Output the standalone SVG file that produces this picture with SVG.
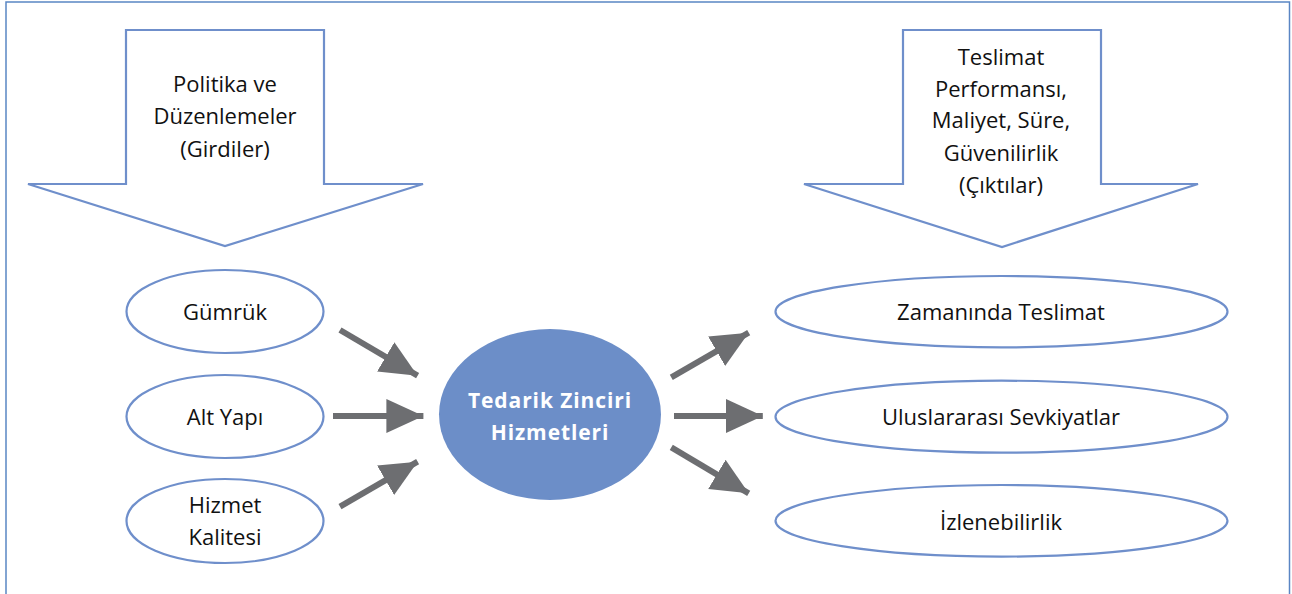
<svg xmlns="http://www.w3.org/2000/svg" width="1292" height="594" viewBox="0 0 1292 594">
<style>
.frame{fill:none;stroke:#5a86c4;stroke-width:1.5}
.blk{fill:#fff;stroke:#6f8fcb;stroke-width:2.2;stroke-linejoin:miter}
.ell{fill:#fff;stroke:#6f8fcb;stroke-width:2.2}
.hub{fill:#6c8ec8;stroke:none}
.t{font-family:"Open Sans","Liberation Sans",sans-serif;font-size:22px;fill:#111;text-anchor:middle}
.tw{font-family:"Open Sans","Liberation Sans",sans-serif;font-size:21px;font-weight:bold;fill:#fff;text-anchor:middle;letter-spacing:0.9px}
.con{stroke:#6d6e71;stroke-width:6;fill:none;marker-end:url(#ah)}
</style>
<defs>
<marker id="ah" markerUnits="userSpaceOnUse" markerWidth="40" markerHeight="36" refX="37" refY="17" orient="auto">
<path d="M0,0 L37,17 L0,34 z" fill="#6d6e71"/>
</marker>
</defs>
<rect x="0" y="0" width="1292" height="594" fill="#fff"/>
<rect class="frame" x="6" y="2" width="1283.5" height="600"/>

<g id="inputs">
<polygon class="blk" points="126,30 324,30 324,184 423,184 225,246 28,184 126,184"/>
<text class="t" x="225" y="92">Politika ve</text>
<text class="t" x="225" y="124">Düzenlemeler</text>
<text class="t" x="225" y="157">(Girdiler)</text>
</g>

<g id="outputs">
<polygon class="blk" points="903,30 1101,30 1101,184 1198,184 1002,247 804,184 903,184"/>
<text class="t" x="1001" y="65">Teslimat</text>
<text class="t" x="1001" y="97">Performansı,</text>
<text class="t" x="1001" y="128">Maliyet, Süre,</text>
<text class="t" x="1001" y="161">Güvenilirlik</text>
<text class="t" x="1001" y="193">(Çıktılar)</text>
</g>

<g id="gumruk">
<ellipse class="ell" cx="225" cy="311.5" rx="98.5" ry="41.5"/>
<text class="t" x="225" y="320">Gümrük</text>
</g>
<g id="altyapi">
<ellipse class="ell" cx="225" cy="416.5" rx="98.5" ry="41.5"/>
<text class="t" x="225" y="425">Alt Yapı</text>
</g>
<g id="hizmetkalitesi">
<ellipse class="ell" cx="225" cy="521" rx="98.5" ry="42"/>
<text class="t" x="225" y="513">Hizmet</text>
<text class="t" x="225" y="545">Kalitesi</text>
</g>

<g id="hub">
<ellipse class="hub" cx="550" cy="414.5" rx="111" ry="85.5"/>
<text class="tw" x="550" y="408">Tedarik Zinciri</text>
<text class="tw" x="550" y="440">Hizmetleri</text>
</g>

<g id="zamaninda">
<ellipse class="ell" cx="1001.5" cy="311.7" rx="226" ry="35.7"/>
<text class="t" x="1001" y="320">Zamanında Teslimat</text>
</g>
<g id="uluslararasi">
<ellipse class="ell" cx="1001.5" cy="416.7" rx="226" ry="36"/>
<text class="t" x="1001" y="425">Uluslararası Sevkiyatlar</text>
</g>
<g id="izlenebilirlik">
<ellipse class="ell" cx="1001.5" cy="520.8" rx="226" ry="35.8"/>
<text class="t" x="1001" y="530">İzlenebilirlik</text>
</g>

<g id="connectors">
<line class="con" x1="340" y1="330" x2="417.6" y2="375.7"/>
<line class="con" x1="333" y1="416" x2="423.4" y2="416"/>
<line class="con" x1="340" y1="506.7" x2="417.6" y2="461.7"/>
<line class="con" x1="671.3" y1="377.3" x2="748.7" y2="332.7"/>
<line class="con" x1="674" y1="416" x2="762.8" y2="416"/>
<line class="con" x1="671.3" y1="447.3" x2="748.7" y2="493.3"/>
</g>
</svg>
